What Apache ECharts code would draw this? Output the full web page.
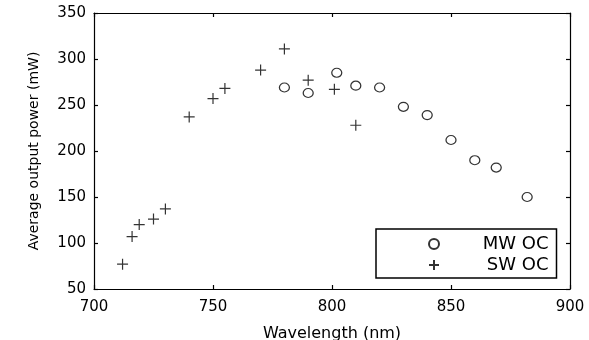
<!DOCTYPE html>
<html>
<head>
<meta charset="utf-8">
<script src="https://cdn.jsdelivr.net/npm/echarts@6/dist/echarts.min.js"></script>
<style>html,body{margin:0;padding:0;background:#fff;}#c{width:589px;height:340px;}</style>
</head>
<body>
<div id="c"></div>
<script>
var mwX = [780, 790, 802, 810, 820, 830, 840, 850, 860, 869, 882];
var mwY = [269, 263, 285, 271, 269, 248, 239, 212, 190, 182, 150];
var swX = [712, 716, 719, 725, 730, 740, 750, 755, 770, 780, 790, 801, 810];
var swY = [77, 107, 120, 126, 137, 237, 257, 268, 288, 311, 277, 267, 228];
var xTicks = [700, 750, 800, 850, 900];
var yTicks = [50, 100, 150, 200, 250, 300, 350];
var seriesNames = ['MW OC', 'SW OC'];

function pairs(xs, ys) { return xs.map(function (x, i) { return [x, ys[i]]; }); }

var FONT = 'DejaVu Sans';
var lineStyle = { color: '#000', width: 1.2 };
var chart = echarts.init(document.getElementById('c'), null, { renderer: 'canvas' });
var plusPath = 'path://M0,5L10,5M5,0L5,10';

chart.setOption({
  backgroundColor: '#fff',
  animation: false,
  textStyle: { fontFamily: FONT, color: '#000' },
  grid: { left: 94, right: 19, top: 13, bottom: 51, containLabel: false, outerBoundsMode: 'none' },
  xAxis: [{
    type: 'value', min: xTicks[0], max: xTicks[xTicks.length - 1], interval: 50,
    name: 'Wavelength (nm)', nameLocation: 'middle', nameGap: 37,
    nameTextStyle: { fontFamily: FONT, fontSize: 16, color: '#000' },
    axisLine: { show: true, lineStyle: lineStyle },
    axisTick: { show: true, inside: true, length: 4, lineStyle: lineStyle },
    axisLabel: { fontFamily: FONT, fontSize: 15, color: '#000', margin: 11 },
    splitLine: { show: false }
  }, {
    type: 'value', position: 'top', min: xTicks[0], max: xTicks[xTicks.length - 1], interval: 50,
    axisLine: { show: true, onZero: false, lineStyle: lineStyle },
    axisTick: { show: true, inside: true, length: 4, lineStyle: lineStyle },
    axisLabel: { show: false }, splitLine: { show: false }
  }],
  yAxis: [{
    type: 'value', min: yTicks[0], max: yTicks[yTicks.length - 1], interval: 50,
    name: 'Average output power (mW)', nameLocation: 'middle', nameGap: 53,
    nameTextStyle: { fontFamily: FONT, fontSize: 14, color: '#000' },
    axisLine: { show: true, onZero: false, lineStyle: lineStyle },
    axisTick: { show: true, inside: true, length: 4, lineStyle: lineStyle },
    axisLabel: { fontFamily: FONT, fontSize: 15, color: '#000', margin: 8 },
    splitLine: { show: false }
  }, {
    type: 'value', position: 'right', min: yTicks[0], max: yTicks[yTicks.length - 1], interval: 50,
    axisLine: { show: true, onZero: false, lineStyle: lineStyle },
    axisTick: { show: true, inside: true, length: 4, lineStyle: lineStyle },
    axisLabel: { show: false }, splitLine: { show: false }
  }],
  legend: {
    orient: 'vertical', left: 376, top: 229,
    padding: [6, 8, 4, 52], itemGap: 3,
    itemWidth: 11, itemHeight: 10,
    borderColor: '#000', borderWidth: 1.5, backgroundColor: '#fff',
    formatter: function (name) { return '{a|' + name + '}'; },
    textStyle: {
      fontFamily: FONT, fontSize: 18, color: '#000', lineHeight: 18,
      rich: { a: { fontFamily: FONT, fontSize: 18, color: '#000', lineHeight: 18, width: 104, align: 'right' } }
    },
    data: seriesNames
  },
  series: [{
    name: seriesNames[0], type: 'scatter', xAxisIndex: 0, yAxisIndex: 0,
    symbol: 'circle', symbolSize: [10, 9],
    itemStyle: { color: 'rgba(255,255,255,0)', borderColor: '#000', borderWidth: 1.2 },
    data: pairs(mwX, mwY)
  }, {
    name: seriesNames[1], type: 'scatter', xAxisIndex: 0, yAxisIndex: 0,
    symbol: plusPath, symbolSize: 11,
    itemStyle: { color: 'rgba(255,255,255,0)', borderColor: '#000', borderWidth: 1.2 },
    data: pairs(swX, swY)
  }]
});
</script>
</body>
</html>
